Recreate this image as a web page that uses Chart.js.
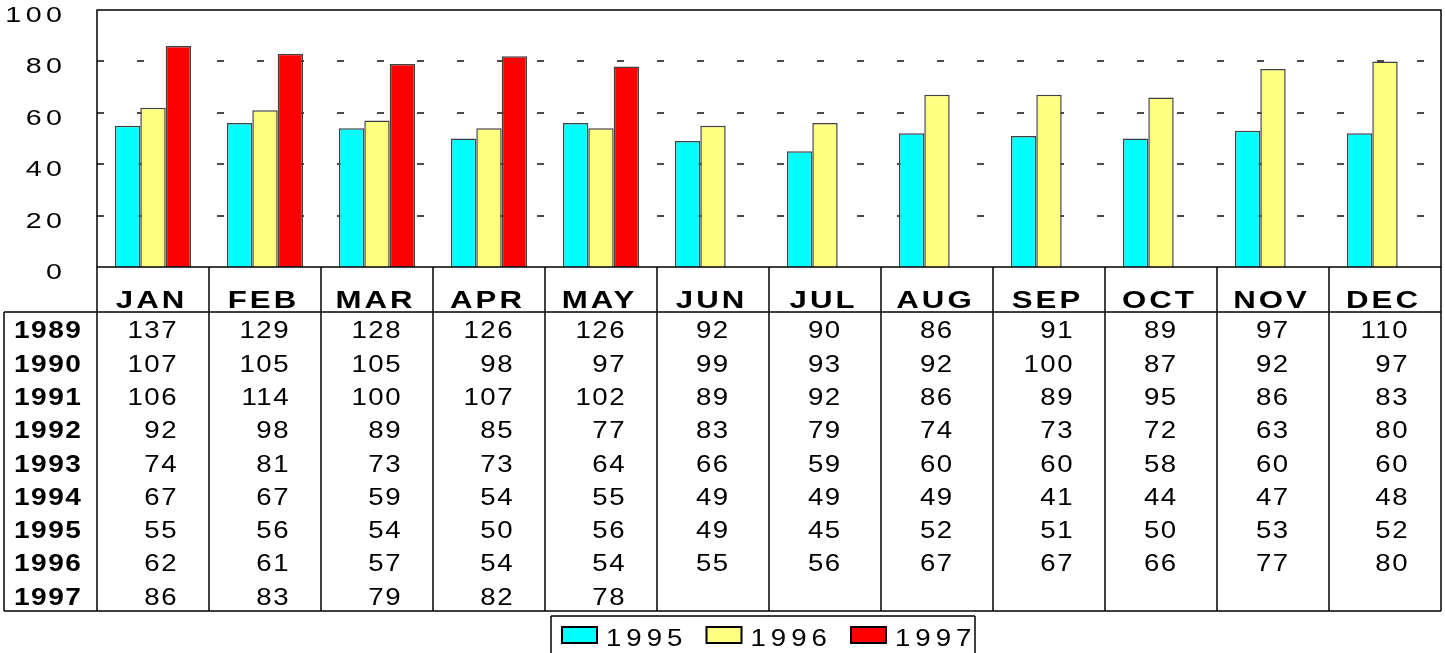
<!DOCTYPE html>
<html>
<head>
<meta charset="utf-8">
<script src="https://cdn.jsdelivr.net/npm/chart.js@4/dist/chart.umd.min.js"></script>
<style>
  html,body{margin:0;padding:0;background:#fff;}
  #c{display:block;}
</style>
</head>
<body>
<canvas id="c" width="1445" height="653"></canvas>
<script>
const months = ['JAN','FEB','MAR','APR','MAY','JUN','JUL','AUG','SEP','OCT','NOV','DEC'];
const yTicks = [0,20,40,60,80,100];
const years = ['1989','1990','1991','1992','1993','1994','1995','1996','1997'];
const v1989 = [137,129,128,126,126,92,90,86,91,89,97,110];
const v1990 = [107,105,105,98,97,99,93,92,100,87,92,97];
const v1991 = [106,114,100,107,102,89,92,86,89,95,86,83];
const v1992 = [92,98,89,85,77,83,79,74,73,72,63,80];
const v1993 = [74,81,73,73,64,66,59,60,60,58,60,60];
const v1994 = [67,67,59,54,55,49,49,49,41,44,47,48];
const v1995 = [55,56,54,50,56,49,45,52,51,50,53,52];
const v1996 = [62,61,57,54,54,55,56,67,67,66,77,80];
const v1997 = [86,83,79,82,78];
const tableRows = [v1989,v1990,v1991,v1992,v1993,v1994,v1995,v1996,v1997];
const barSeries = [
  {label:'1995', data:v1995, color:'#00FFFF'},
  {label:'1996', data:v1996, color:'#FFFF80'},
  {label:'1997', data:v1997, color:'#FF0000'}
];

const FAM = '"Liberation Sans", Arial, sans-serif';

function textWidth(ctx, s, font, sx, ls) {
  ctx.save();
  ctx.font = font;
  if ('letterSpacing' in ctx) ctx.letterSpacing = (ls / sx) + 'px';
  const w = ctx.measureText(s).width * sx - (('letterSpacing' in ctx) ? ls : 0);
  ctx.restore();
  return w;
}

function stretchText(ctx, s, x, y, font, sx, align, ls) {
  ls = ls || 0;
  const w = textWidth(ctx, s, font, sx, ls);
  ctx.save();
  ctx.font = font;
  if ('letterSpacing' in ctx) ctx.letterSpacing = (ls / sx) + 'px';
  ctx.textBaseline = 'middle';
  ctx.textAlign = 'left';
  ctx.fillStyle = '#000';
  let x0 = x;
  if (align === 'right') x0 = x - w;
  else if (align === 'center') x0 = x - w / 2;
  ctx.translate(x0, y);
  ctx.scale(sx, 1);
  ctx.fillText(s, 0, 0);
  ctx.restore();
  return w;
}

function line(ctx, x1, y1, x2, y2) {
  ctx.beginPath(); ctx.moveTo(x1, y1); ctx.lineTo(x2, y2); ctx.stroke();
}

const gridPlugin = {
  id: 'dashGrid',
  beforeDatasetsDraw(chart) {
    const ctx = chart.ctx, a = chart.chartArea, y = chart.scales.y;
    ctx.save();
    ctx.strokeStyle = '#4a4a4a';
    ctx.lineWidth = 2;
    ctx.setLineDash([7, 33]);
    y.ticks.forEach(t => {
      if (t.value === y.min || t.value === y.max) return;
      const py = Math.round(y.getPixelForValue(t.value));
      line(ctx, a.left, py, a.right, py);
    });
    ctx.restore();
  }
};

const tablePlugin = {
  id: 'dataTable',
  afterDraw(chart) {
    const ctx = chart.ctx, a = chart.chartArea, x = chart.scales.x, y = chart.scales.y;
    const colW = x.width / months.length;
    const tableLeft = 4;
    const headerBottom = 312;
    const rowH = 33.3;
    const tableBottom = 611;

    // y tick labels
    y.ticks.forEach(t => {
      const py = y.getPixelForValue(t.value);
      stretchText(ctx, String(t.value), 62, py + 6, '22px ' + FAM, 1.3, 'right', 4.5);
    });

    ctx.save();
    ctx.strokeStyle = '#000';
    ctx.lineWidth = 1.5;
    // plot border
    ctx.strokeRect(a.left, a.top, a.right - a.left, a.bottom - a.top);
    // column lines
    for (let i = 0; i <= months.length; i++) {
      const px = Math.round(a.left + i * colW);
      line(ctx, px, a.bottom, px, tableBottom);
    }
    line(ctx, tableLeft, headerBottom, a.right, headerBottom);
    line(ctx, tableLeft, tableBottom, a.right, tableBottom);
    line(ctx, tableLeft, headerBottom, tableLeft, tableBottom);
    ctx.restore();

    // month headers
    months.forEach((m, i) => {
      const cx = x.getPixelForValue(i);
      stretchText(ctx, m, cx - 3, 301, 'bold 24px ' + FAM, 1.3, 'center', 3);
    });

    // row labels and values
    const numFont = '23px ' + FAM;
    const sxNum = 1.2;
    const lsNum = 1.5;
    const colMax = months.map((m, i) => {
      let mw = 0;
      tableRows.forEach(r => {
        if (r[i] !== undefined && r[i] !== null) mw = Math.max(mw, textWidth(ctx, String(r[i]), numFont, sxNum, lsNum));
      });
      return mw;
    });
    years.forEach((yr, r) => {
      const cy = headerBottom + 20 + r * rowH;
      stretchText(ctx, yr, 14, cy, 'bold 23px ' + FAM, 1.22, 'left', 1.5);
      tableRows[r].forEach((v, i) => {
        if (v === undefined || v === null) return;
        const cx = x.getPixelForValue(i);
        stretchText(ctx, String(v), cx + colMax[i] / 2 - 1, cy, numFont, sxNum, 'right', lsNum);
      });
    });

    // legend
    const ds = chart.data.datasets;
    const center = (a.left + a.right) / 2 - 6;
    const boxL = center - 212, boxR = center + 212, boxT = 616;
    ctx.save();
    ctx.strokeStyle = '#000';
    ctx.lineWidth = 1.5;
    line(ctx, boxL, boxT, boxR, boxT);
    line(ctx, boxL, boxT, boxL, chart.height + 2);
    line(ctx, boxR, boxT, boxR, chart.height + 2);
    ds.forEach((d, k) => {
      const sx0 = boxL + 11 + k * 144.5;
      ctx.fillStyle = d.backgroundColor;
      ctx.fillRect(sx0, 627, 35, 16);
      ctx.lineWidth = 2;
      ctx.strokeRect(sx0, 627, 35, 16);
      stretchText(ctx, d.label, sx0 + 44, 640, '23px ' + FAM, 1.2, 'left', 5);
    });
    ctx.restore();
  }
};

new Chart(document.getElementById('c'), {
  type: 'bar',
  data: {
    labels: months,
    datasets: barSeries.map(s => ({
      label: s.label,
      data: s.data,
      backgroundColor: s.color,
      borderColor: '#404040',
      borderWidth: 1.5,
      borderSkipped: 'start'
    }))
  },
  options: {
    responsive: false,
    animation: false,
    devicePixelRatio: 1,
    layout: { padding: { top: 10, right: 4, left: 0, bottom: 0 } },
    datasets: { bar: { categoryPercentage: 0.68, barPercentage: 1.0 } },
    plugins: { legend: { display: false }, tooltip: { enabled: false } },
    scales: {
      x: {
        grid: { display: false },
        border: { display: false },
        ticks: { display: false },
        afterFit(s) { s.height = 386; }
      },
      y: {
        min: 0, max: 100,
        ticks: { display: false, stepSize: 20 },
        afterBuildTicks(s) { s.ticks = yTicks.map(v => ({ value: v })); },
        grid: { display: false },
        border: { display: false },
        afterFit(s) { s.width = 97; }
      }
    }
  },
  plugins: [gridPlugin, tablePlugin]
});
</script>
</body>
</html>
